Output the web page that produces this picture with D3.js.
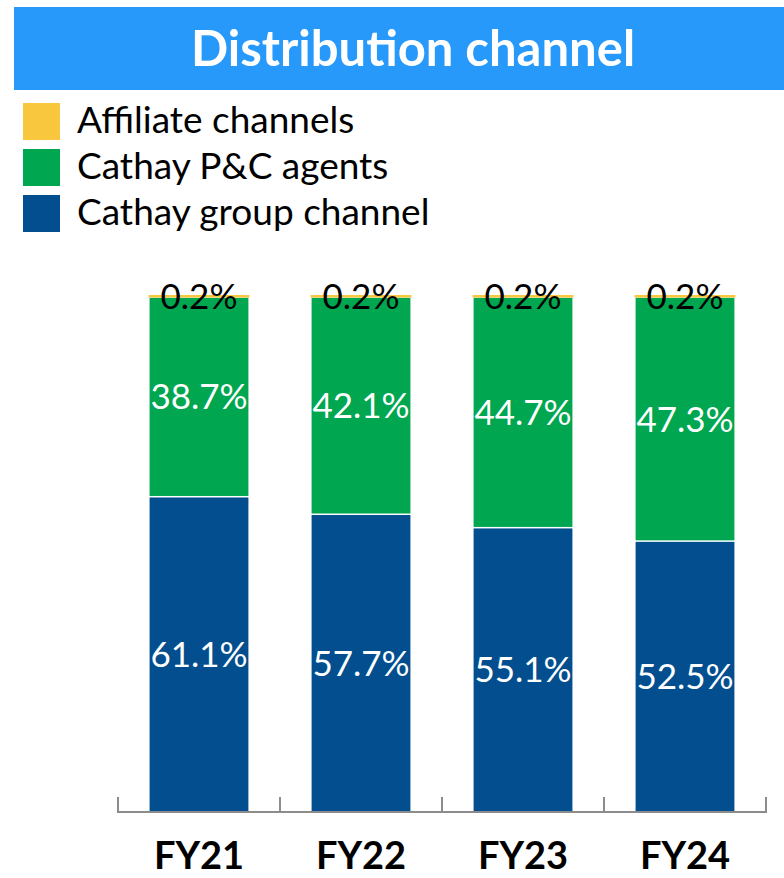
<!DOCTYPE html>
<html>
<head>
<meta charset="utf-8">
<script src="https://cdn.jsdelivr.net/npm/d3@7"></script>
<style>
  html, body { margin: 0; padding: 0; background: #fff; }
  svg { display: block; }
</style>
</head>
<body>
<svg id="chart" width="784" height="878"></svg>
<script>
// Share of premiums by distribution channel (%)
const categories = ["FY21", "FY22", "FY23", "FY24"];
const groupChannel = [61.1, 57.7, 55.1, 52.5];
const pcAgents = [38.7, 42.1, 44.7, 47.3];
const affiliate = [0.2, 0.2, 0.2, 0.2];
const seriesNames = ["Cathay group channel", "Cathay P&C agents", "Affiliate channels"];
const seriesColors = ["#024E8E", "#00A650", "#F9C73D"];

const FONT = "Lato, 'Open Sans', sans-serif";
const svg = d3.select("#chart");

// Title banner
svg.append("rect").attr("x", 14).attr("y", 7).attr("width", 770).attr("height", 83)
  .attr("fill", "#2699FB");
svg.append("text").attr("x", 413).attr("y", 66).attr("text-anchor", "middle")
  .attr("font-family", FONT).attr("font-weight", 700).attr("font-size", 49)
  .attr("fill", "#fff").text("Distribution channel");

// Legend (top to bottom: affiliate, agents, group)
const legendOrder = [2, 1, 0];
const legend = svg.append("g");
legendOrder.forEach((si, i) => {
  const y0 = 103 + i * 46;
  legend.append("rect").attr("x", 23).attr("y", y0).attr("width", 37).attr("height", 37)
    .attr("fill", seriesColors[si]);
  legend.append("text").attr("x", 77).attr("y", y0 + 30)
    .attr("font-family", FONT).attr("font-size", 37).attr("fill", "#000")
    .text(seriesNames[si]);
});

// Stacked data
const rows = categories.map((c, i) => ({ cat: c, v: [groupChannel[i], pcAgents[i], affiliate[i]] }));
const stacked = rows.map(r => {
  let acc = 0;
  return r.v.map((val, si) => {
    const seg = { cat: r.cat, si, val, y0: acc, y1: acc + val };
    acc += val;
    return seg;
  });
});

const x = d3.scaleBand().domain(categories).range([118, 766]).paddingInner(0.39).paddingOuter(0.195);
const y = d3.scaleLinear().domain([0, 100]).range([812, 296]);

const bars = svg.append("g");
stacked.forEach(segs => {
  segs.forEach(s => {
    const isTop = s.si === 2;
    bars.append("rect")
      .attr("x", x(s.cat) - (isTop ? 1 : 0))
      .attr("width", x.bandwidth() + (isTop ? 2 : 0))
      .attr("y", y(s.y1) + (isTop ? -1 : 0.75))
      .attr("height", Math.max(0, y(s.y0) - y(s.y1) - (isTop ? -1.5 : 1.5)))
      .attr("fill", seriesColors[s.si]);
  });
});

// Value labels
const labels = svg.append("g").attr("font-family", FONT).attr("font-size", 35).attr("text-anchor", "middle");
stacked.forEach(segs => {
  segs.forEach(s => {
    const cx = x(s.cat) + x.bandwidth() / 2;
    const cy = s.si === 2 ? y(s.y1) : (y(s.y0) + y(s.y1)) / 2;
    labels.append("text").attr("x", cx).attr("y", cy).attr("dy", "0.36em")
      .attr("fill", s.si === 2 ? "#000" : "#fff")
      .text(s.val.toFixed(1) + "%");
  });
});

// Category axis with tick marks between bands
const axisG = svg.append("g");
const step = x.step();
const edges = [x(categories[0]) - x.paddingOuter() * step];
categories.forEach(c => edges.push(x(c) + x.bandwidth() + (step - x.bandwidth()) / 2));
axisG.append("line").attr("x1", edges[0]).attr("x2", edges[edges.length - 1])
  .attr("y1", y(0)).attr("y2", y(0)).attr("stroke", "#8C8C8C").attr("stroke-width", 2);
edges.forEach(e => {
  axisG.append("line").attr("x1", e).attr("x2", e).attr("y1", y(0) - 15).attr("y2", y(0) + 1)
    .attr("stroke", "#8C8C8C").attr("stroke-width", 2);
});
categories.forEach(c => {
  axisG.append("text").attr("x", x(c) + x.bandwidth() / 2).attr("y", 869)
    .attr("text-anchor", "middle").attr("font-family", FONT).attr("font-weight", 700)
    .attr("font-size", 38).attr("fill", "#000").text(c);
});
</script>
</body>
</html>
